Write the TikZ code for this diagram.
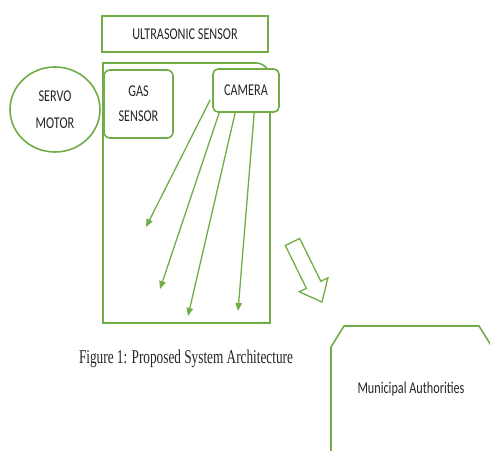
\documentclass[tikz,border=0pt]{standalone}
\usepackage{fontspec}
\usepackage{graphicx}
\setmainfont{Carlito}
\newfontfamily\captionfont{Liberation Serif}
\usetikzlibrary{arrows.meta,shapes.geometric,calc}
\definecolor{boxgreen}{HTML}{70AD47}
\definecolor{textgray}{HTML}{262626}

% narrow, tall lettering
\newcommand{\sqz}[1]{\scalebox{0.74}[1]{\begin{tabular}{@{}c@{}}#1\end{tabular}}}

\tikzset{
  outline/.style={draw=boxgreen, line width=1.6pt},
  labelbox/.style={outline, rectangle, inner sep=0pt, align=center,
    text=textgray, font=\fontsize{16.5}{25.5}\selectfont},
  feed/.style={draw=boxgreen, line width=1.3pt,
    -{Triangle[length=8pt,width=6.5pt]}},
}

\begin{document}
\begin{tikzpicture}[x=1pt,y=-1pt]
\useasboundingbox (0,0) rectangle (490,450);

% sensor housing with one rounded corner
\draw[outline] (103,323) -- (103,63) [rounded corners=14pt] -- (270,63)
  [sharp corners] -- (270,323) -- cycle;

\node[labelbox, minimum width=166pt, minimum height=36pt] (ultra) at (185,34)
  {\sqz{ULTRASONIC SENSOR}};
\node[labelbox, rounded corners=6pt, fill=white, minimum width=69pt,
  minimum height=68pt] (gas) at (138.5,104) {\sqz{GAS\\SENSOR}};
\node[labelbox, rounded corners=5pt, fill=white, minimum width=66pt,
  minimum height=43pt] (camera) at (246,90.5) {\sqz{CAMERA}};
\node[labelbox, ellipse, minimum width=90pt, minimum height=85pt,
  font=\fontsize{16.5}{26.5}\selectfont]
  (servo) at (55,109.5) {\sqz{SERVO\\MOTOR}};

% camera field of view
\coordinate (t1) at (146,227);
\coordinate (t2) at (160,289);
\coordinate (t3) at (188,316);
\coordinate (t4) at (238,311);
\draw[feed] ($(camera.south west)+(-2,-13)$) -- (t1);
\draw[feed] ($(camera.south west)+(7,0)$) -- (t2);
\draw[feed] ($(camera.south west)+(23,0)$) -- (t3);
\draw[feed] ($(camera.south west)+(42,0)$) -- (t4);

% hollow block arrow
\draw[boxgreen, line width=1.3pt, line join=miter]
  (299.7,238.5) -- (320.8,281.3) -- (327.9,277.8) -- (322,302)
  -- (299.2,291.8) -- (306.4,288.3) -- (285.3,245.5) -- cycle;

% municipal authorities panel
\draw[outline] (331,455) -- (331,347) -- (344,326) -- (479,326) -- (497,355);
\node[text=textgray, inner sep=0pt, font=\fontsize{16.5}{20}\selectfont] (muni)
  at (411,389) {\sqz{Municipal Authorities}};

\node[text=textgray, inner sep=0pt,
  font=\captionfont\fontsize{19.5}{22}\selectfont] (caption)
  at (186,359) {\scalebox{0.68}[1]{Figure 1: Proposed System Architecture}};
\end{tikzpicture}
\end{document}
